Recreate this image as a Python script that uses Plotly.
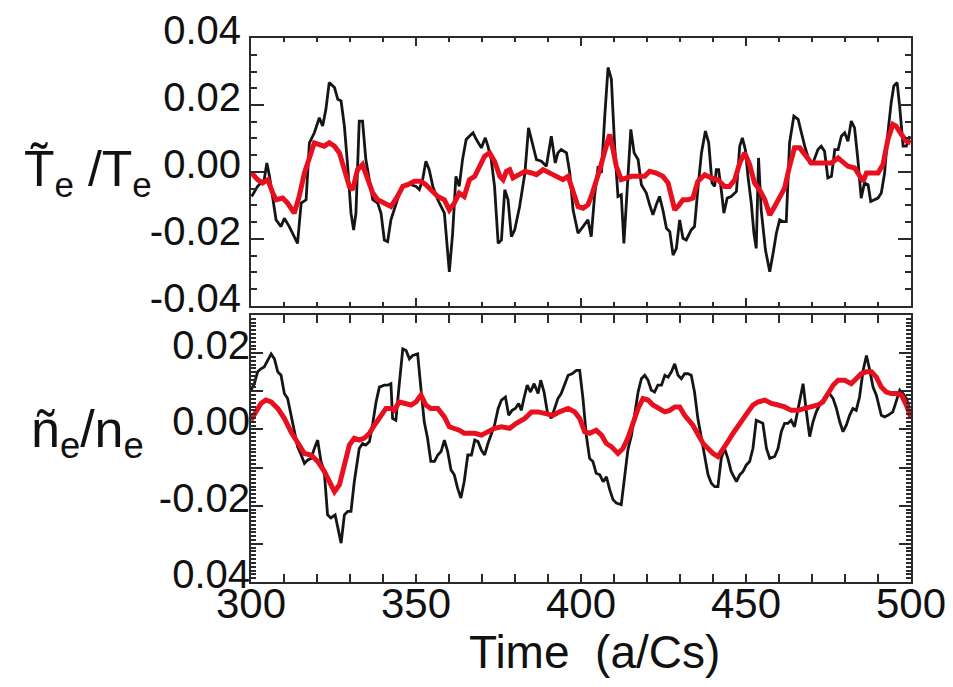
import plotly.graph_objects as go

# Te fluctuation, raw signal (black)
te_t = [300.2, 302.0, 304.0, 304.8, 305.6, 306.6, 307.6, 309.1, 310.1, 311.6, 313.1, 314.1, 315.2, 316.7,
        317.7, 319.2, 320.7, 321.7, 322.7, 323.7, 325.3, 326.3, 327.3, 328.3, 329.3, 330.3, 331.1, 331.8,
        332.8, 333.8, 334.8, 335.9, 336.9, 338.4, 339.4, 340.4, 341.4, 342.4, 343.4, 345.5, 347.0, 348.5,
        350.0, 351.0, 352.0, 353.0, 354.0, 355.1, 356.6, 357.6, 358.6, 360.1, 361.1, 362.1, 363.1, 364.1,
        365.2, 366.7, 367.3, 368.3, 369.8, 371.0, 371.8, 372.8, 373.8, 374.9, 375.9, 376.9, 377.9, 378.9,
        379.9, 381.4, 383.0, 384.1, 385.5, 386.5, 388.0, 389.5, 391.0, 392.2, 393.0, 394.0, 395.6, 396.6,
        397.6, 399.1, 400.6, 402.1, 403.1, 404.1, 405.2, 406.2, 407.2, 408.2, 409.2, 410.2, 411.2, 412.2,
        413.0, 414.0, 415.1, 416.1, 417.3, 418.3, 419.8, 420.8, 421.8, 422.8, 423.8, 424.8, 425.9, 426.9,
        427.9, 428.9, 429.9, 430.9, 431.9, 433.4, 434.4, 435.4, 436.5, 437.7, 438.7, 439.7, 440.5, 441.0,
        441.7, 442.5, 443.3, 444.3, 445.5, 447.1, 448.1, 448.9, 449.8, 450.6, 451.6, 452.4, 453.1, 453.8,
        454.6, 455.9, 457.2, 458.2, 459.2, 460.2, 461.2, 462.2, 463.2, 464.5, 465.8, 466.8, 467.8, 469.3,
        470.3, 471.8, 472.8, 473.8, 474.8, 475.9, 476.9, 477.9, 478.9, 479.9, 480.9, 481.9, 482.9, 483.9,
        484.9, 485.9, 487.0, 487.8, 489.0, 490.0, 491.0, 492.0, 493.0, 494.0, 494.8, 495.8, 496.6, 497.6,
        498.6, 499.6]
te_raw = [-0.0073, -0.0043, -0.0023, 0.0027, -0.0013, -0.0083, -0.0143, -0.0163, -0.0138, -0.0163, -0.0193,
          -0.0213, -0.0093, -0.0083, 0.0087, 0.0117, 0.0162, 0.0137, 0.0187, 0.0267, 0.0252, 0.0217, 0.0212,
          0.0137, 0.0017, -0.0123, -0.0173, -0.0123, 0.0152, 0.0152, 0.0037, -0.0023, -0.0083, -0.0093,
          -0.0123, -0.0203, -0.0208, -0.0143, -0.0113, -0.0048, -0.0038, -0.0038, -0.0043, -0.0053, -0.0023,
          0.0032, 0.0007, -0.0043, -0.0083, -0.0103, -0.0123, -0.0298, -0.0183, -0.0013, -0.0043, 0.0037,
          0.0097, 0.0112, 0.0117, 0.0097, 0.0072, 0.0102, 0.0077, 0.0037, -0.0043, -0.0213, -0.0203, -0.0053,
          -0.0083, -0.0193, -0.0173, -0.0103, -0.0003, 0.0132, 0.0077, 0.0037, 0.0032, 0.0017, 0.0107, 0.0027,
          0.0057, 0.0067, 0.0057, -0.0003, -0.0113, -0.0183, -0.0163, -0.0143, -0.0193, -0.0073, 0.0017,
          -0.0003, 0.0167, 0.0312, 0.0277, 0.0077, -0.0073, -0.0068, -0.0213, -0.0063, 0.0127, 0.0057, 0.0037,
          -0.0038, -0.0063, -0.0098, -0.0128, -0.0098, -0.0073, -0.0113, -0.0168, -0.0178, -0.0248, -0.0228,
          -0.0143, -0.0198, -0.0203, -0.0173, -0.0163, -0.0053, 0.0057, 0.0122, 0.0087, -0.0033, -0.0043,
          0.0007, 0.0007, -0.0053, -0.0123, -0.0078, -0.0073, -0.0058, 0.0077, 0.0102, 0.0067, -0.0013,
          -0.0093, -0.0183, -0.0228, 0.0042, -0.0113, -0.0233, -0.0298, -0.0243, -0.0183, -0.0143, -0.0148,
          -0.0148, 0.0087, 0.0167, 0.0157, 0.0117, 0.0077, 0.0027, 0.0027, 0.0067, 0.0077, 0.0062, -0.0018,
          -0.0013, 0.0067, 0.0067, 0.0107, 0.0117, 0.0092, 0.0152, 0.0132, 0.0037, -0.0078, -0.0033, -0.0038,
          -0.0088, -0.0083, -0.0078, -0.0063, -0.0003, 0.0117, 0.0207, 0.0257, 0.0267, 0.0192, 0.0077,
          0.0077, 0.0107]

# Te fluctuation, averaged (red)
te_avg_t = [300.2, 302.0, 303.5, 305.1, 306.6, 307.6, 309.6, 311.1, 313.1, 314.6, 316.2, 317.7, 319.2, 320.7,
            322.2, 323.7, 325.3, 326.8, 328.3, 329.8, 330.8, 332.3, 333.8, 335.4, 336.9, 338.4, 340.4, 342.4,
            344.4, 346.0, 347.5, 349.5, 351.5, 353.0, 354.5, 356.6, 358.6, 360.1, 361.6, 363.1, 364.6, 366.2,
            367.8, 369.3, 370.8, 372.3, 373.8, 375.4, 376.4, 377.4, 378.4, 379.4, 380.9, 383.0, 385.0, 386.5,
            388.5, 390.5, 392.5, 394.5, 396.1, 397.6, 399.1, 400.6, 402.1, 403.1, 404.1, 405.7, 407.2, 408.7,
            409.7, 410.7, 412.2, 413.7, 415.3, 417.3, 419.3, 420.8, 422.8, 424.8, 426.4, 427.4, 428.4, 429.4,
            430.9, 432.4, 433.9, 435.4, 437.5, 439.5, 441.5, 443.5, 445.0, 446.6, 448.1, 449.6, 451.1, 452.6,
            454.1, 455.7, 457.2, 458.7, 460.2, 461.7, 463.2, 464.7, 466.3, 467.8, 469.8, 471.8, 473.8, 475.9,
            477.9, 479.4, 480.9, 482.9, 484.4, 485.5, 486.5, 488.0, 490.0, 491.5, 493.0, 494.5, 495.5, 497.1,
            498.6, 499.9]
te_avg = [-0.0003, -0.0023, -0.0033, -0.0023, -0.0063, -0.0083, -0.0078, -0.0093, -0.0123, -0.0073, -0.0003,
          0.0047, 0.0087, 0.0082, 0.0077, 0.0087, 0.0077, 0.0057, 0.0007, -0.0043, -0.0053, 0.0007, 0.0022,
          -0.0023, -0.0063, -0.0083, -0.0093, -0.0103, -0.0073, -0.0043, -0.0038, -0.0028, -0.0028, -0.0038,
          -0.0053, -0.0073, -0.0083, -0.0113, -0.0093, -0.0063, -0.0073, -0.0023, -0.0013, 0.0017, 0.0047,
          0.0057, 0.0032, -0.0013, -0.0023, 0.0002, 0.0007, -0.0018, -0.0008, 0.0002, -0.0003, -0.0008, 0.0007,
          -0.0003, -0.0013, -0.0023, -0.0013, -0.0053, -0.0103, -0.0108, -0.0098, -0.0073, -0.0043, 0.0007,
          0.0062, 0.0112, 0.0067, 0.0017, -0.0023, -0.0018, -0.0013, -0.0013, -0.0013, 0.0002, -0.0003,
          -0.0013, -0.0033, -0.0073, -0.0113, -0.0103, -0.0083, -0.0083, -0.0078, -0.0028, -0.0008, -0.0018,
          -0.0023, -0.0043, -0.0043, -0.0023, 0.0027, 0.0057, 0.0022, -0.0033, -0.0053, -0.0083, -0.0128,
          -0.0103, -0.0073, -0.0048, 0.0017, 0.0072, 0.0072, 0.0052, 0.0027, 0.0027, 0.0027, 0.0027, 0.0042,
          0.0027, 0.0017, 0.0012, -0.0013, -0.0028, -0.0003, -0.0003, -0.0003, 0.0022, 0.0097, 0.0142, 0.0137,
          0.0112, 0.0092, 0.0087]

# ne fluctuation, raw signal (black)
ne_t = [300.0, 301.0, 302.0, 303.0, 304.0, 304.8, 306.1, 307.1, 308.1, 309.1, 310.1, 311.1, 312.1, 313.1,
        314.1, 315.2, 316.2, 317.2, 318.2, 319.2, 320.2, 321.2, 322.2, 323.2, 324.2, 325.5, 326.3, 327.3,
        328.3, 329.3, 330.3, 331.3, 332.8, 333.8, 334.8, 335.9, 336.9, 337.9, 338.9, 340.4, 341.4, 342.4,
        342.9, 343.9, 344.9, 346.0, 347.0, 348.0, 349.0, 350.5, 351.5, 352.5, 353.5, 354.5, 355.6, 356.6,
        357.6, 358.6, 359.6, 360.6, 361.6, 362.6, 363.6, 364.6, 365.7, 366.8, 367.8, 368.8, 369.8, 370.8,
        371.8, 372.8, 373.8, 374.9, 375.9, 377.1, 378.1, 379.1, 380.1, 381.1, 381.9, 382.7, 383.7, 384.7,
        385.8, 387.0, 387.8, 388.8, 389.8, 391.0, 392.0, 393.0, 394.0, 395.1, 396.1, 397.3, 398.6, 399.6,
        400.6, 401.6, 402.6, 403.6, 404.6, 405.7, 406.7, 407.7, 408.7, 409.7, 410.7, 412.2, 413.2, 414.2,
        415.3, 416.3, 417.3, 418.3, 419.3, 420.3, 421.3, 422.3, 423.3, 424.4, 425.4, 426.4, 427.4, 428.4,
        429.4, 430.4, 431.4, 432.4, 433.4, 434.4, 435.4, 436.5, 437.5, 438.5, 439.5, 440.5, 441.5, 442.5,
        443.5, 444.5, 445.5, 447.1, 448.1, 449.1, 450.1, 451.1, 452.1, 453.1, 454.1, 455.1, 456.2, 457.2,
        458.7, 459.7, 460.7, 461.7, 462.7, 463.7, 464.7, 465.8, 467.3, 468.3, 469.3, 470.3, 471.3, 472.3,
        473.3, 474.3, 475.3, 476.4, 477.4, 478.4, 479.4, 480.4, 481.4, 482.4, 483.4, 484.4, 485.5, 486.5,
        487.5, 488.5, 489.5, 491.0, 492.0, 493.0, 494.5, 495.5, 496.6, 497.6, 498.6, 499.6]
ne_raw = [0.0103, 0.0120, 0.0151, 0.0159, 0.0164, 0.0177, 0.0198, 0.0185, 0.0151, 0.0142, 0.0094, 0.0081,
          0.0037, -0.0010, -0.0045, -0.0067, -0.0089, -0.0080, -0.0076, -0.0050, -0.0028, -0.0084, -0.0110,
          -0.0224, -0.0232, -0.0224, -0.0258, -0.0298, -0.0224, -0.0215, -0.0215, -0.0137, -0.0050, -0.0037,
          -0.0041, -0.0032, 0.0016, 0.0072, 0.0111, 0.0116, 0.0116, 0.0120, 0.0029, 0.0024, 0.0116, 0.0211,
          0.0207, 0.0185, 0.0194, 0.0198, 0.0107, 0.0020, -0.0023, -0.0084, -0.0084, -0.0067, -0.0058, -0.0028,
          -0.0058, -0.0106, -0.0119, -0.0154, -0.0180, -0.0137, -0.0067, -0.0067, -0.0028, -0.0032, -0.0054,
          -0.0067, -0.0037, -0.0010, 0.0011, 0.0055, 0.0077, 0.0085, 0.0037, 0.0050, 0.0055, 0.0068, 0.0050,
          0.0081, 0.0116, 0.0098, 0.0120, 0.0094, 0.0129, 0.0098, 0.0046, 0.0029, 0.0055, 0.0081, 0.0094,
          0.0120, 0.0142, 0.0146, 0.0155, 0.0155, 0.0081, -0.0015, -0.0076, -0.0084, -0.0115, -0.0119, -0.0137,
          -0.0124, -0.0158, -0.0184, -0.0193, -0.0197, -0.0119, -0.0054, -0.0015, 0.0037, 0.0098, 0.0133,
          0.0142, 0.0129, 0.0103, 0.0098, 0.0116, 0.0116, 0.0142, 0.0137, 0.0151, 0.0172, 0.0142, 0.0133,
          0.0146, 0.0146, 0.0142, 0.0098, 0.0029, -0.0023, -0.0067, -0.0119, -0.0141, -0.0150, -0.0150,
          -0.0076, -0.0050, -0.0076, -0.0110, -0.0137, -0.0119, -0.0110, -0.0093, -0.0084, -0.0050, 0.0024,
          0.0020, 0.0016, -0.0050, -0.0076, -0.0071, -0.0050, -0.0006, 0.0016, 0.0016, 0.0024, 0.0007, 0.0055,
          0.0120, 0.0046, -0.0019, 0.0020, 0.0046, 0.0064, 0.0077, 0.0090, 0.0094, 0.0081, 0.0055, 0.0020,
          -0.0006, 0.0011, 0.0037, 0.0055, 0.0050, 0.0085, 0.0155, 0.0194, 0.0155, 0.0111, 0.0090, 0.0037,
          0.0033, 0.0037, 0.0046, 0.0072, 0.0103, 0.0094, 0.0081, 0.0055]

# ne fluctuation, averaged (red)
ne_avg_t = [300.0, 301.5, 303.0, 304.5, 306.1, 308.1, 310.1, 312.1, 314.1, 316.2, 318.2, 320.2, 322.2, 323.7,
            325.3, 326.8, 328.3, 329.8, 331.3, 332.8, 334.3, 335.9, 337.4, 339.4, 340.9, 342.4, 343.4, 344.9,
            346.5, 348.5, 350.0, 351.5, 353.0, 354.5, 356.6, 358.6, 360.1, 361.6, 363.1, 364.6, 366.2, 367.8,
            369.8, 371.8, 373.8, 375.9, 378.4, 380.4, 383.0, 385.0, 387.0, 389.0, 391.5, 393.5, 396.1, 398.1,
            399.6, 401.1, 402.6, 404.6, 406.2, 407.7, 409.2, 411.2, 412.7, 414.2, 415.8, 417.3, 418.8, 420.3,
            421.8, 423.3, 425.4, 426.9, 428.4, 429.9, 431.4, 433.9, 435.4, 437.0, 438.5, 440.0, 441.5, 443.0,
            444.5, 446.1, 447.6, 449.1, 450.6, 452.1, 453.6, 455.7, 457.7, 459.7, 461.7, 463.7, 465.8, 467.8,
            469.8, 471.8, 473.3, 474.8, 476.4, 477.9, 479.9, 481.9, 483.4, 484.9, 486.5, 488.0, 489.5, 491.0,
            492.5, 494.0, 495.6, 497.1, 498.6, 499.9]
ne_avg = [0.0024, 0.0046, 0.0068, 0.0077, 0.0072, 0.0055, 0.0029, -0.0006, -0.0037, -0.0063, -0.0067, -0.0084,
          -0.0110, -0.0137, -0.0163, -0.0145, -0.0093, -0.0041, -0.0023, -0.0028, -0.0023, -0.0010, 0.0011,
          0.0037, 0.0055, 0.0055, 0.0050, 0.0072, 0.0068, 0.0064, 0.0072, 0.0090, 0.0064, 0.0055, 0.0055,
          0.0033, 0.0007, 0.0003, -0.0002, -0.0010, -0.0010, -0.0010, -0.0015, -0.0006, 0.0003, 0.0007, 0.0003,
          0.0016, 0.0029, 0.0046, 0.0046, 0.0042, 0.0037, 0.0046, 0.0055, 0.0046, 0.0029, -0.0006, -0.0010,
          -0.0002, -0.0015, -0.0037, -0.0045, -0.0063, -0.0050, -0.0023, 0.0020, 0.0055, 0.0081, 0.0077,
          0.0064, 0.0055, 0.0046, 0.0050, 0.0059, 0.0059, 0.0037, 0.0011, -0.0015, -0.0037, -0.0050, -0.0063,
          -0.0071, -0.0054, -0.0032, -0.0010, 0.0007, 0.0024, 0.0046, 0.0064, 0.0072, 0.0077, 0.0068, 0.0064,
          0.0059, 0.0050, 0.0050, 0.0055, 0.0059, 0.0064, 0.0072, 0.0094, 0.0116, 0.0129, 0.0129, 0.0120,
          0.0133, 0.0146, 0.0151, 0.0151, 0.0137, 0.0111, 0.0098, 0.0094, 0.0094, 0.0090, 0.0064, 0.0033]

x_ticks = [300, 350, 400, 450, 500]
x_labels = ["300", "350", "400", "450", "500"]
te_yticks = [-0.04, -0.02, 0.0, 0.02, 0.04]
te_ylabels = ["-0.04", "-0.02", "0.00", "0.02", "0.04"]
ne_major = [-0.04, -0.03, -0.02, -0.01, 0.0, 0.01, 0.02, 0.03]
ne_yticks = [-0.04, -0.02, 0.0, 0.02]
ne_ylabels = ["0.04", "-0.02", "0.00", "0.02"]

FONT = "Liberation Sans, Arial, Helvetica, sans-serif"
FRAME = "#2a2a2a"
TEXT = "#111111"
RAW_COLOR = "#151515"
AVG_COLOR = "#e8101e"

fig = go.Figure()
fig.add_trace(go.Scatter(x=te_t, y=te_raw, mode="lines", line=dict(color=RAW_COLOR, width=2.8),
                         xaxis="x", yaxis="y", showlegend=False))
fig.add_trace(go.Scatter(x=te_avg_t, y=te_avg, mode="lines", line=dict(color=AVG_COLOR, width=5),
                         xaxis="x", yaxis="y", showlegend=False))
fig.add_trace(go.Scatter(x=ne_t, y=ne_raw, mode="lines", line=dict(color=RAW_COLOR, width=2.8),
                         xaxis="x2", yaxis="y2", showlegend=False))
# red curve sits on the overlaid label axis (same range as y2)
fig.add_trace(go.Scatter(x=ne_avg_t, y=ne_avg, mode="lines", line=dict(color=AVG_COLOR, width=5),
                         xaxis="x2", yaxis="y3", showlegend=False))

common = dict(showline=True, linecolor=FRAME, linewidth=2, mirror="allticks", ticks="inside",
              tickcolor=FRAME, tickwidth=1.5, showgrid=False, zeroline=False, automargin=False)

x_minor = dict(ticks="inside", ticklen=4, tickmode="linear", tick0=300, dtick=10, tickcolor=FRAME, showgrid=False)

fig.update_layout(
    width=953, height=687,
    margin=dict(l=243, r=50, t=30, b=113),
    paper_bgcolor="white", plot_bgcolor="white",
    xaxis=dict(domain=[0, 1], anchor="y", range=[300, 500], tickmode="array", tickvals=x_ticks,
               showticklabels=False, ticklen=8, minor=x_minor, **common),
    yaxis=dict(domain=[0.5074, 1], anchor="x", range=[-0.04, 0.04], tickmode="array",
               tickvals=te_yticks, ticktext=te_ylabels, ticklen=13, ticklabelshift=-8,
               tickfont=dict(family=FONT, size=40, color=TEXT),
               minor=dict(ticks="inside", ticklen=6, tickmode="linear", tick0=0, dtick=0.005,
                          tickcolor=FRAME, showgrid=False), **common),
    xaxis2=dict(domain=[0, 1], anchor="y2", range=[300, 500], tickmode="array", tickvals=x_ticks,
                ticktext=x_labels, ticklen=8, tickfont=dict(family=FONT, size=42, color=TEXT),
                ticklabelstandoff=-16, minor=x_minor, **common),
    yaxis2=dict(domain=[0, 0.4908], anchor="x2", range=[-0.04, 0.03], tickmode="array",
                tickvals=ne_major, showticklabels=False, ticklen=12,
                minor=dict(ticks="inside", ticklen=5, tickmode="linear", tick0=0, dtick=0.001,
                           tickcolor=FRAME, showgrid=False), **common),
    yaxis3=dict(domain=[0, 0.4908], anchor="x2", overlaying="y2", side="left", range=[-0.04, 0.03],
                tickmode="array", tickvals=ne_yticks, ticktext=ne_ylabels, ticks="", ticklabelshift=-8,
                showline=False, showgrid=False, zeroline=False, automargin=False,
                tickfont=dict(family=FONT, size=40, color=TEXT)),
    annotations=[
        dict(text="T\u0303<sub>e</sub> /T<sub>e</sub>", xref="paper", yref="paper", x=-0.247, y=0.752,
             xanchor="center", yanchor="middle", showarrow=False,
             font=dict(family=FONT, size=50, color=TEXT)),
        dict(text="ñ<sub>e</sub>/n<sub>e</sub>", xref="paper", yref="paper", x=-0.247, y=0.274,
             xanchor="center", yanchor="middle", showarrow=False,
             font=dict(family=FONT, size=52, color=TEXT)),
        dict(text="Time  (a/Cs)", xref="paper", yref="paper", x=0.52, y=-0.129,
             xanchor="center", yanchor="middle", showarrow=False,
             font=dict(family=FONT, size=46, color=TEXT)),
    ],
)

fig.write_html("out.html")
